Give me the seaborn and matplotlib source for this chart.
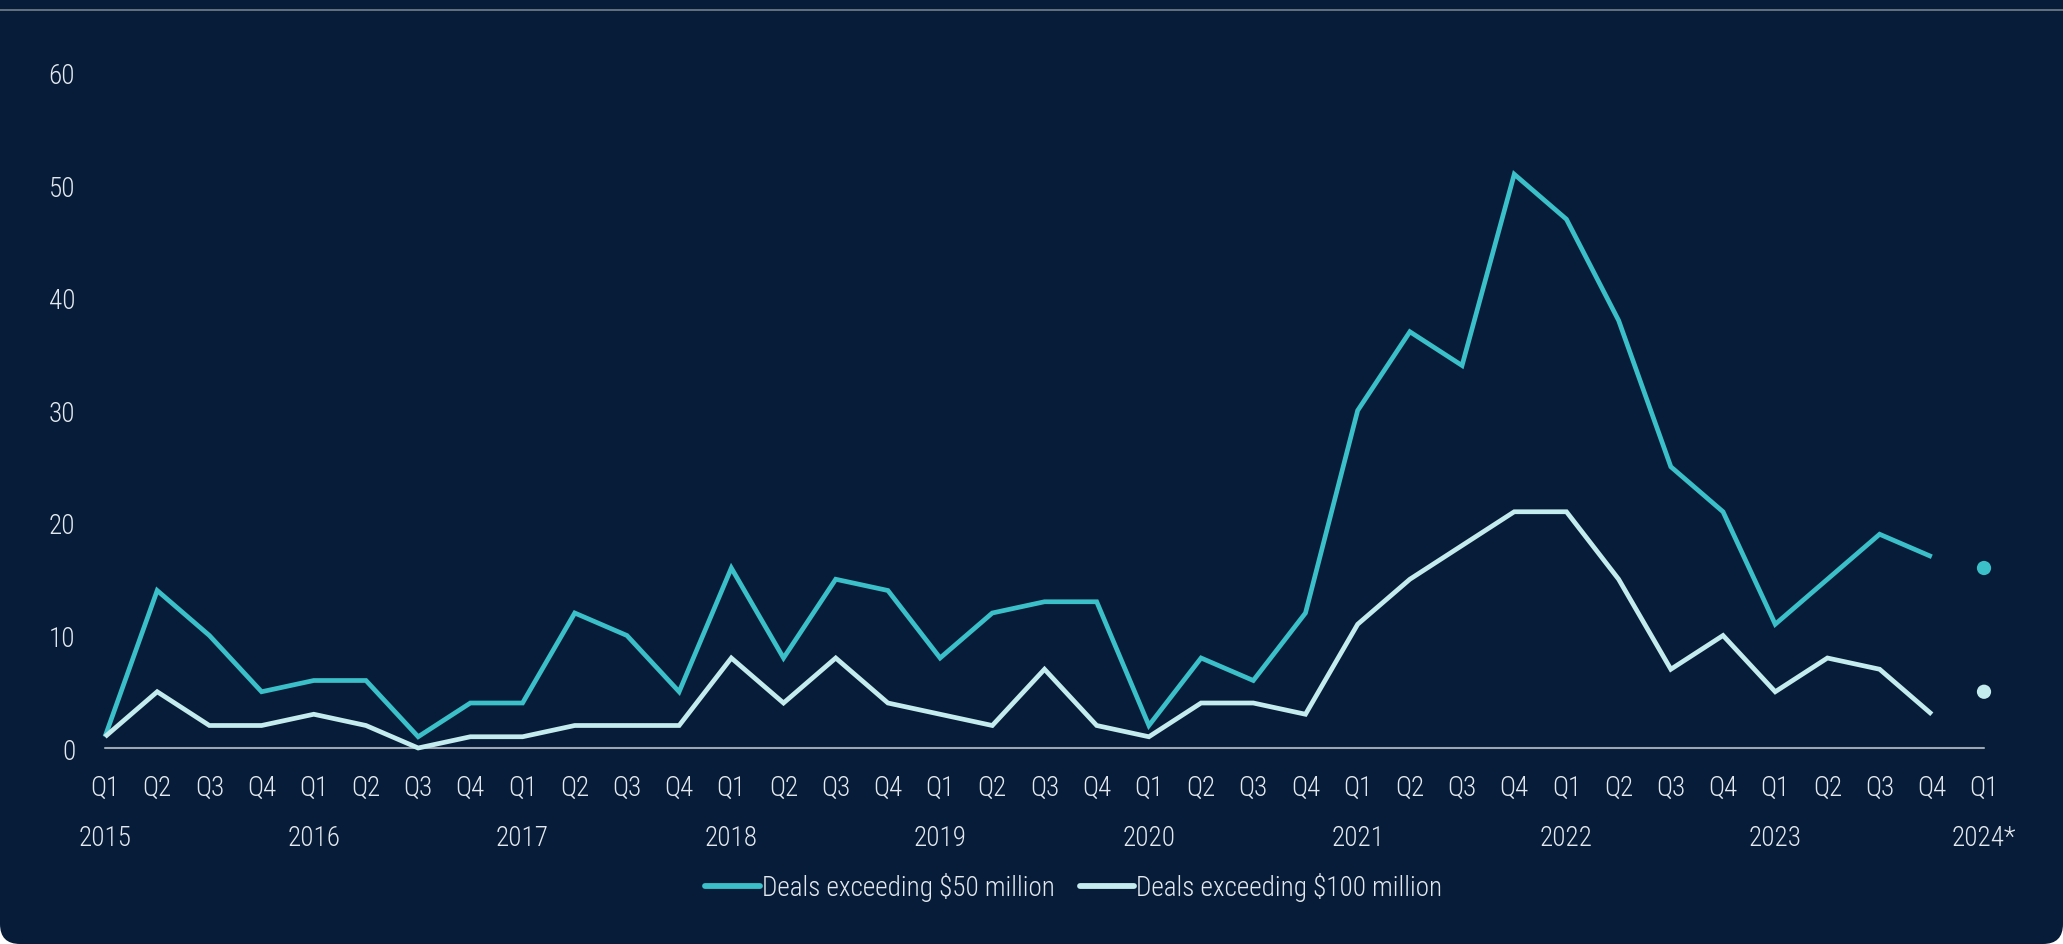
import os
import numpy as np
import pandas as pd
import matplotlib
matplotlib.use("Agg")
import matplotlib.pyplot as plt
import matplotlib.transforms as mtransforms
from matplotlib import font_manager as fm
from matplotlib.patches import FancyBboxPatch
from matplotlib.lines import Line2D
import seaborn as sns

# ---------------------------------------------------------------- data
quarters = ["Q1", "Q2", "Q3", "Q4"] * 9 + ["Q1"]
years = ["2015", "2016", "2017", "2018", "2019", "2020", "2021", "2022", "2023", "2024*"]

deals_50m = [1, 14, 10, 5,
             6, 6, 1, 4,
             4, 12, 10, 5,
             16, 8, 15, 14,
             8, 12, 13, 13,
             2, 8, 6, 12,
             30, 37, 34, 51,
             47, 38, 25, 21,
             11, 15, 19, 17]
deals_100m = [1, 5, 2, 2,
              3, 2, 0, 1,
              1, 2, 2, 2,
              8, 4, 8, 4,
              3, 2, 7, 2,
              1, 4, 4, 3,
              11, 15, 18, 21,
              21, 15, 7, 10,
              5, 8, 7, 3]
# partial-year figures for 2024 Q1
deals_50m_2024 = [16]
deals_100m_2024 = [5]

series_names = ["Deals exceeding $50 million", "Deals exceeding $100 million"]

# ---------------------------------------------------------------- style
BG = "#061c38"
CYAN = "#3bbfc8"
PALE = "#c4ecee"
TEXT = "#e3e8ee"
BASE = "#9ea7b1"


def find_font():
    names = ["NotoSans-CondensedLight", "NotoSans-Condensed-Light",
             "OpenSans-CondensedLight", "OpenSansCondensed-Light",
             "RobotoCondensed-Light", "NotoSans-Light", "Roboto-Light",
             "Lato-Light"]
    files = [f.fname for f in fm.fontManager.ttflist]
    for n in names:
        for f in files:
            if os.path.splitext(os.path.basename(f))[0] == n:
                return f
    return None


font_file = find_font()


def fprop(size):
    if font_file:
        return fm.FontProperties(fname=font_file, size=size)
    return fm.FontProperties(family="DejaVu Sans", size=size)


FS = 19.5

sns.set_theme(style="white")
W, H, DPI = 2063, 945, 100
fig = plt.figure(figsize=(W / DPI, H / DPI), dpi=DPI, facecolor="white")

# card background with rounded bottom corners
card = FancyBboxPatch((0, 0), W / DPI, (H + 60) / DPI,
                      boxstyle="round,pad=0,rounding_size=0.2",
                      transform=fig.dpi_scale_trans, facecolor=BG,
                      edgecolor="none", zorder=-10)
fig.patches.append(card)
fig.add_artist(Line2D([0, 1], [1 - 10.5 / H, 1 - 10.5 / H],
                      transform=fig.transFigure, color="#66717f", lw=1.4,
                      zorder=-5))

# plot area: x from Q1 2015 to Q1 2024, y from 0 to 60
left, right = 105 / W, 1984 / W
bottom, top = 1 - 749 / H, 1 - 74 / H
ax = fig.add_axes([left, bottom, right - left, top - bottom])
ax.set_facecolor("none")
ax.set_zorder(2)

n = len(deals_50m)
df = pd.DataFrame({
    "idx": list(range(n)) * 2,
    "deals": deals_50m + deals_100m,
    "series": [series_names[0]] * n + [series_names[1]] * n,
})
palette = {series_names[0]: CYAN, series_names[1]: PALE}

ax.plot([0, 36], [0, 0], color=BASE, lw=1.5, zorder=1, clip_on=False)

sns.lineplot(data=df, x="idx", y="deals", hue="series", palette=palette,
             linewidth=3.4, legend=False, ax=ax, zorder=3)
for ln in ax.get_lines()[1:]:
    ln.set_solid_joinstyle("miter")
    ln.set_solid_capstyle("butt")
    ln.set_clip_on(False)

pts = pd.DataFrame({
    "idx": [36, 36],
    "deals": deals_50m_2024 + deals_100m_2024,
    "series": series_names,
})
sns.scatterplot(data=pts, x="idx", y="deals", hue="series", palette=palette,
                s=105, linewidth=0, legend=False, ax=ax, zorder=4, clip_on=False)

ax.set_xlim(0, 36)
ax.set_ylim(0, 60)
ax.set_xlabel("")
ax.set_ylabel("")
for s in ax.spines.values():
    s.set_visible(False)
ax.grid(False)

ax.set_yticks(np.arange(0, 61, 10))
ax.set_yticklabels([str(v) for v in range(0, 61, 10)])
ax.set_xticks(range(len(quarters)))
ax.set_xticklabels(quarters)
ax.tick_params(axis="both", length=0, colors=TEXT)
ax.tick_params(axis="y", pad=21.5)
ax.tick_params(axis="x", pad=28)
for lbl in ax.get_yticklabels():
    lbl.set_fontproperties(fprop(FS))
    lbl.set_color(TEXT)
for lbl in ax.get_xticklabels():
    lbl.set_fontproperties(fprop(FS))
    lbl.set_color(TEXT)
    lbl.set_va("center")

# year labels under each Q1
year_tr = mtransforms.offset_copy(ax.get_xaxis_transform(), fig=fig,
                                  y=-89, units="dots")
for i, yr in enumerate(years):
    ax.text(i * 4, 0, yr, transform=year_tr, ha="center", va="center",
            color=TEXT, fontproperties=fprop(FS), clip_on=False)

handles = [Line2D([], [], color=CYAN, lw=4.2, solid_capstyle="round"),
           Line2D([], [], color=PALE, lw=4.2, solid_capstyle="round")]
leg = fig.legend(handles, series_names, loc="center",
                 bbox_to_anchor=(1074 / W, 1 - 888 / H), ncol=2,
                 frameon=False, prop=fprop(FS), handlelength=2.0,
                 handletextpad=0.1, columnspacing=0.9, borderpad=0)
for t in leg.get_texts():
    t.set_color(TEXT)

fig.savefig("out.png", dpi=DPI, facecolor="white")
